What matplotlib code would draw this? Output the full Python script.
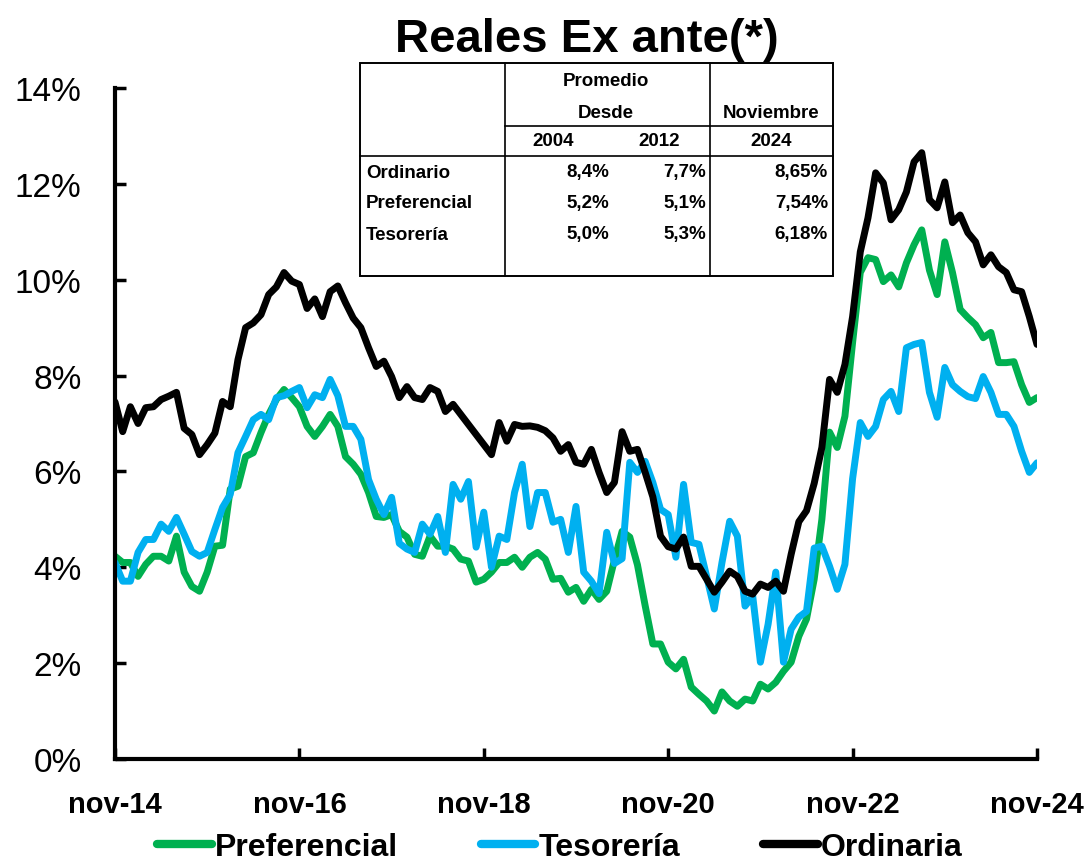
import numpy as np
import matplotlib.pyplot as plt
from matplotlib.lines import Line2D
from matplotlib.patches import Rectangle

# monthly series, nov-14 .. nov-24 (121 months), tasas reales ex ante en %
tick_pos = [0, 24, 48, 72, 96, 120]
tick_labels = ['nov-14', 'nov-16', 'nov-18', 'nov-20', 'nov-22', 'nov-24']

preferencial = [
    4.23, 4.10, 4.10, 3.81, 4.06, 4.23, 4.23, 4.13, 4.65, 3.90,
    3.60, 3.50, 3.90, 4.44, 4.46, 5.63, 5.69, 6.31, 6.39, 6.81,
    7.19, 7.50, 7.71, 7.54, 7.35, 6.94, 6.73, 6.94, 7.19, 6.94,
    6.31, 6.15, 5.94, 5.56, 5.06, 5.04, 5.10, 4.75, 4.63, 4.27,
    4.23, 4.65, 4.44, 4.44, 4.38, 4.17, 4.13, 3.69, 3.75, 3.90,
    4.10, 4.10, 4.21, 4.00, 4.21, 4.31, 4.17, 3.75, 3.77, 3.48,
    3.58, 3.29, 3.54, 3.33, 3.50, 4.15, 4.75, 4.63, 4.05, 3.20,
    2.40, 2.40, 2.02, 1.88, 2.08, 1.50, 1.35, 1.21, 1.00, 1.40,
    1.21, 1.10, 1.25, 1.21, 1.56, 1.46, 1.60, 1.83, 2.02, 2.56,
    2.92, 3.75, 5.00, 6.82, 6.50, 7.15, 8.69, 10.15, 10.46, 10.42,
    9.96, 10.10, 9.85, 10.35, 10.73, 11.04, 10.20, 9.69, 10.79, 10.15,
    9.38, 9.21, 9.06, 8.79, 8.90, 8.27, 8.27, 8.29, 7.81, 7.44,
    7.54,
]

tesoreria = [
    4.10, 3.71, 3.71, 4.31, 4.58, 4.58, 4.90, 4.75, 5.04, 4.69,
    4.33, 4.23, 4.31, 4.79, 5.25, 5.52, 6.39, 6.73, 7.08, 7.19,
    7.08, 7.54, 7.58, 7.67, 7.75, 7.33, 7.60, 7.54, 7.92, 7.58,
    6.94, 6.94, 6.67, 5.83, 5.42, 5.10, 5.46, 4.50, 4.38, 4.31,
    4.90, 4.69, 5.06, 4.31, 5.73, 5.42, 5.79, 4.42, 5.15, 4.00,
    4.65, 4.58, 5.56, 6.15, 4.85, 5.56, 5.56, 4.94, 5.00, 4.31,
    5.27, 3.90, 3.71, 3.45, 4.73, 4.08, 4.18, 6.19, 5.98, 6.21,
    5.77, 5.21, 5.10, 4.21, 5.73, 4.52, 4.48, 3.81, 3.13, 4.10,
    4.96, 4.65, 3.19, 3.40, 2.02, 2.81, 3.90, 2.02, 2.71, 2.96,
    3.08, 4.40, 4.44, 4.02, 3.54, 4.06, 5.85, 7.02, 6.73, 6.94,
    7.50, 7.67, 7.25, 8.58, 8.65, 8.69, 7.65, 7.13, 8.17, 7.81,
    7.67, 7.56, 7.52, 7.98, 7.65, 7.19, 7.19, 6.94, 6.42, 5.98,
    6.18,
]

ordinaria = [
    7.45, 6.83, 7.35, 7.00, 7.33, 7.35, 7.50, 7.57, 7.65, 6.90,
    6.77, 6.35, 6.56, 6.80, 7.46, 7.35, 8.33, 9.00, 9.10, 9.27,
    9.69, 9.85, 10.15, 9.97, 9.90, 9.40, 9.60, 9.23, 9.75, 9.87,
    9.52, 9.20, 9.00, 8.58, 8.19, 8.30, 7.98, 7.54, 7.77, 7.54,
    7.50, 7.75, 7.67, 7.25, 7.40, 7.19, 6.98, 6.77, 6.56, 6.35,
    7.02, 6.63, 6.98, 6.94, 6.95, 6.92, 6.85, 6.70, 6.42, 6.56,
    6.19, 6.15, 6.46, 5.98, 5.56, 5.77, 6.83, 6.42, 6.46, 5.98,
    5.47, 4.65, 4.43, 4.38, 4.63, 4.02, 4.02, 3.75, 3.48, 3.69,
    3.92, 3.81, 3.50, 3.44, 3.65, 3.58, 3.71, 3.50, 4.27, 4.95,
    5.18, 5.75, 6.50, 7.92, 7.65, 8.23, 9.23, 10.58, 11.29, 12.23,
    12.02, 11.25, 11.46, 11.83, 12.46, 12.65, 11.67, 11.50, 12.04, 11.19,
    11.35, 10.98, 10.79, 10.31, 10.52, 10.27, 10.15, 9.79, 9.75, 9.23,
    8.65,
]

# summary table
row_names = ['Ordinario', 'Preferencial', 'Tesorería']
prom_2004 = ['8,4%', '5,2%', '5,0%']
prom_2012 = ['7,7%', '5,1%', '5,3%']
nov_2024 = ['8,65%', '7,54%', '6,18%']

W, H = 1086, 862
narrow = ['Liberation Sans Narrow', 'Liberation Sans', 'DejaVu Sans']
regular = ['Liberation Sans', 'DejaVu Sans']


def fx(x):
    return x / W


def fy(y):
    return 1 - y / H


fig = plt.figure(figsize=(W / 100, H / 100), dpi=100)
ax = fig.add_axes([fx(115), fy(760), (1037 - 115) / W, (760 - 89) / H])

months = np.arange(len(ordinaria))
ax.plot(months, preferencial, color='#00B050', lw=5, label='Preferencial',
        solid_capstyle='round', solid_joinstyle='round')
ax.plot(months, tesoreria, color='#00B0F0', lw=5, label='Tesorería',
        solid_capstyle='round', solid_joinstyle='round')
ax.plot(months, ordinaria, color='black', lw=5, label='Ordinaria',
        solid_capstyle='round', solid_joinstyle='round')

ax.set_xlim(0, 120)
ax.set_ylim(0, 14)
ax.set_yticks(range(0, 15, 2))
ax.set_yticklabels([f'{v}%' for v in range(0, 15, 2)], family=narrow, fontsize=24)
ax.set_xticks(tick_pos)
ax.set_xticklabels(tick_labels, family=narrow, fontsize=21, fontweight='bold')
ax.tick_params(axis='y', direction='in', length=8, width=2.5, pad=24)
ax.tick_params(axis='x', direction='in', length=8, width=2.5, pad=22)
for side in ['top', 'right']:
    ax.spines[side].set_visible(False)
for side in ['left', 'bottom']:
    ax.spines[side].set_linewidth(3)

fig.text(fx(587), fy(40), 'Reales Ex ante(*)', ha='center', va='center',
         family=narrow, fontsize=34, fontweight='bold')

leg = fig.legend(loc='center', bbox_to_anchor=(fx(560), fy(848)), ncol=3,
                 frameon=False, handlelength=1.7, handletextpad=0.1,
                 columnspacing=2.6, prop={'family': narrow, 'size': 23, 'weight': 'bold'})
for line in leg.get_lines():
    line.set_linewidth(6)

# table box and grid
tl, tr, tt, tb = 360, 833, 64, 277
fig.add_artist(Rectangle((fx(tl), fy(tb)), (tr - tl) / W, (tb - tt) / H,
                         transform=fig.transFigure, facecolor='white',
                         edgecolor='black', lw=1.4, zorder=5))
grid_lines = [
    ((505, 505), (tt, tb)),
    ((710, 710), (tt, tb)),
    ((505, tr), (127, 127)),
    ((tl, tr), (157, 157)),
]
for xs, ys in grid_lines:
    fig.add_artist(Line2D([fx(xs[0]), fx(xs[1])], [fy(ys[0]), fy(ys[1])],
                          transform=fig.transFigure, color='black', lw=1.2, zorder=6))

tkw = dict(family=regular, fontsize=13.5, fontweight='bold', va='center', zorder=7)
fig.text(fx(606), fy(82), 'Promedio', ha='center', **tkw)
fig.text(fx(606), fy(113), 'Desde', ha='center', **tkw)
fig.text(fx(771), fy(113), 'Noviembre', ha='center', **tkw)
fig.text(fx(553), fy(142), '2004', ha='center', **tkw)
fig.text(fx(659), fy(142), '2012', ha='center', **tkw)
fig.text(fx(771), fy(142), '2024', ha='center', **tkw)
for i, name in enumerate(row_names):
    y = fy(173 + 31 * i)
    fig.text(fx(366), y, name, ha='left', **tkw)
    fig.text(fx(609), y, prom_2004[i], ha='right', **tkw)
    fig.text(fx(706), y, prom_2012[i], ha='right', **tkw)
    fig.text(fx(828), y, nov_2024[i], ha='right', **tkw)

fig.savefig('out.png', dpi=100)
